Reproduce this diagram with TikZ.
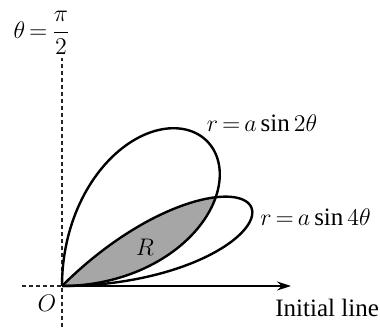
\documentclass[tikz,border=0pt]{standalone}
\usepackage{amsmath}
\usepackage{fontspec}
\setmainfont{Liberation Serif}
\usetikzlibrary{arrows.meta}
\thickmuskip=3mu plus 2mu
\medmuskip=2mu

\begin{document}
\begin{tikzpicture}[x=0.5pt,y=0.5pt,
  curve/.style={black,line width=1.2pt},
  guide/.style={black!85,line width=0.6pt,dash pattern=on 2pt off 1.5pt},
  lbl/.style={font=\fontsize{12.5}{14}\selectfont,inner sep=0pt}]
\useasboundingbox (-62,-41) rectangle (318,286);
\coordinate (O) at (0,0);
\coordinate (top) at (0,228);
\coordinate (left) at (-40,0);
\coordinate (bottom) at (0,-41);
\coordinate (axisend) at (229,0);
% common region R
\fill[black!35] plot[domain=0:30,samples=40] (\x:{205*sin(2*\x)}) -- plot[domain=30:45,samples=30] (\x:{205*sin(4*\x)}) -- cycle;
\draw[guide] (bottom) -- (top);
\draw[guide] (left) -- (O);
\draw[line width=0.6pt,-{Stealth[length=7pt,width=4.5pt]}] (O) -- (axisend);
\draw[curve] plot[domain=0:90,samples=120] (\x:{205*sin(2*\x)});
\draw[curve] plot[domain=0:45,samples=90] (\x:{205*sin(4*\x)});
\node[lbl] (halfpi) at (-20,253) {$\theta=\dfrac{\pi}{2}$};
\node[lbl] (lbltwo) at (200,163) {$r=a\sin 2\theta$};
\node[lbl,anchor=west] (lblfour) at (198,69) {$r=a\sin 4\theta$};
\node[lbl,anchor=west] (initial) at (213,-22) {Initial line};
\node[lbl] (olabel) at (-15,-17) {$O$};
\node[lbl] (rlabel) at (83,39) {$R$};
\end{tikzpicture}
\end{document}
